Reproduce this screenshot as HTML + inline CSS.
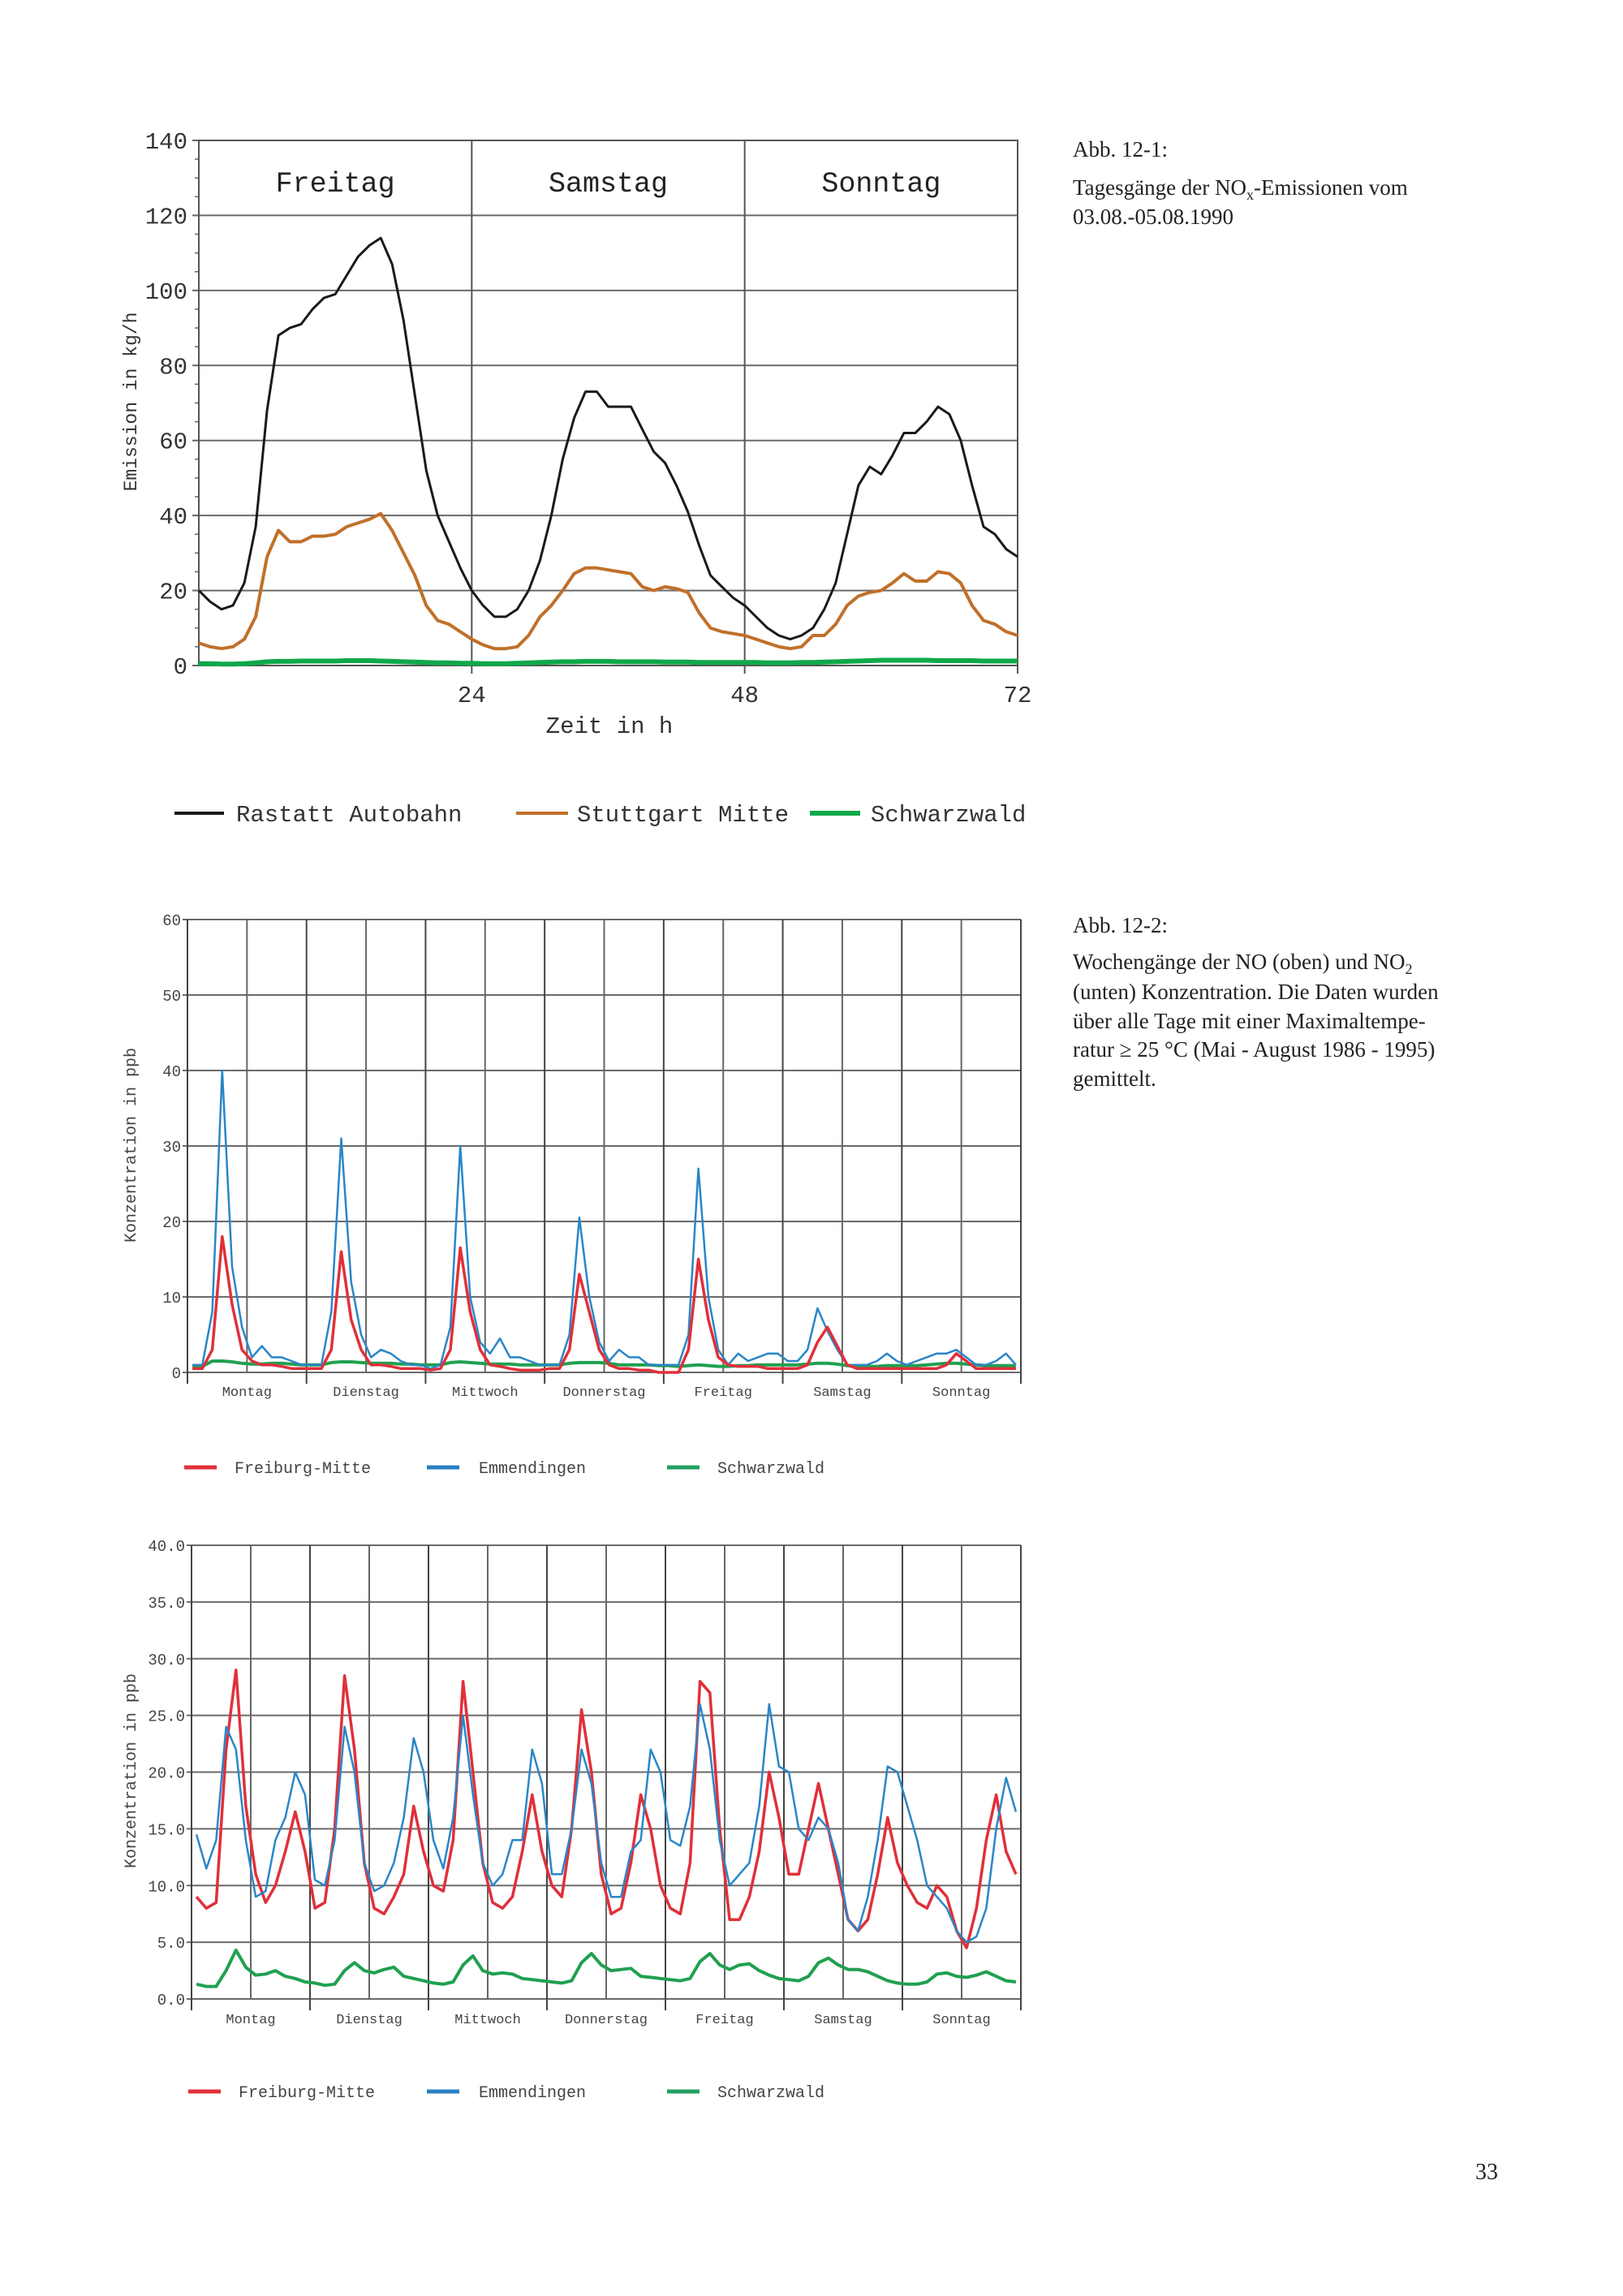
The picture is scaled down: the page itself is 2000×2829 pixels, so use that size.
<!DOCTYPE html>
<html><head><meta charset="utf-8"><style>
html,body{margin:0;padding:0;background:#fff;}
svg{display:block;}
.mono{font-family:"Liberation Mono",monospace;}
.serif{font-family:"Liberation Serif",serif;}
</style></head><body>
<svg id="page" width="2000" height="2829" viewBox="0 0 2000 2829" xmlns="http://www.w3.org/2000/svg">
<rect width="2000" height="2829" fill="#fff"/>
<g class="serif" fill="#222" font-size="27">
<text x="1322" y="193">Abb.  12-1:</text>
<text x="1322" y="240">Tagesgänge der NO<tspan font-size="18" dy="6">x</tspan><tspan dy="-6">-Emissionen vom</tspan></text>
<text x="1322" y="276">03.08.-05.08.1990</text>
</g>
<g class="serif" fill="#222" font-size="27">
<text x="1322" y="1149">Abb. 12-2:</text>
<text x="1322" y="1194">Wochengänge der NO (oben) und NO<tspan font-size="18" dy="6">2</tspan></text>
<text x="1322" y="1231">(unten) Konzentration. Die Daten wurden</text>
<text x="1322" y="1267">über alle Tage mit einer Maximaltempe-</text>
<text x="1322" y="1302">ratur ≥ 25 °C (Mai - August 1986 - 1995)</text>
<text x="1322" y="1338">gemittelt.</text>
</g>
<text class="serif" x="1818" y="2685" font-size="28" fill="#222">33</text>
<g id="c1"></g>
<g id="c2"></g>
<g id="c3"></g>
</svg>
<script>
// ---- Chart 1 data (hourly, 0..72 h) ----
const c1Hours = [0,1,2,3,4,5,6,7,8,9,10,11,12,13,14,15,16,17,18,19,20,21,22,23,24,25,26,27,28,29,30,31,32,33,34,35,36,37,38,39,40,41,42,43,44,45,46,47,48,49,50,51,52,53,54,55,56,57,58,59,60,61,62,63,64,65,66,67,68,69,70,71,72];
const c1Rastatt = [20,17,15,16,22,37,68,88,90,91,95,98,99,104,109,112,114,107,92,72,52,40,33,26,20,16,13,13,15,20,28,40,55,66,73,73,69,69,69,63,57,54,48,41,32,24,21,18,16,13,10,8,7,8,10,15,22,35,48,53,51,56,62,62,65,69,67,60,48,37,35,31,29];
const c1Stuttgart = [6,5,4.5,5,7,13,29,36,33,33,34.5,34.5,35,37,38,39,40.5,36,30,24,16,12,11,9,7,5.5,4.5,4.5,5,8,13,16,20,24.5,26,26,25.5,25,24.5,21,20,21,20.5,19.5,14,10,9,8.5,8,7,6,5,4.5,5,8,8,11,16,18.5,19.5,20,22,24.5,22.5,22.5,25,24.5,22,16,12,11,9,8];
const c1Schwarz = [0.5,0.5,0.4,0.4,0.5,0.7,1,1.1,1.1,1.2,1.2,1.2,1.2,1.3,1.3,1.3,1.2,1.1,1,0.9,0.8,0.7,0.7,0.6,0.6,0.5,0.5,0.5,0.6,0.7,0.8,0.9,1,1,1.1,1.1,1.1,1,1,1,1,0.9,0.9,0.9,0.8,0.8,0.8,0.8,0.8,0.8,0.7,0.7,0.7,0.8,0.8,0.9,1,1.1,1.2,1.3,1.4,1.4,1.4,1.4,1.4,1.3,1.3,1.3,1.3,1.2,1.2,1.2,1.2];
const c1YTicks = [0,20,40,60,80,100,120,140];
const c1XTicks = [24,48,72];
const c1Days = ["Freitag","Samstag","Sonntag"];

// ---- Chart 2 data: NO (points at odd hours, 7 days x 12) ----
const weekDays = ["Montag","Dienstag","Mittwoch","Donnerstag","Freitag","Samstag","Sonntag"];
const c2Freiburg = [0.5,0.5,3,18,9,3,1.5,1,1,0.8,0.5,0.5, 0.5,0.5,3,16,7,3,1,1,0.8,0.5,0.5,0.5, 0.3,0.5,3,16.5,8,3,1,0.8,0.5,0.3,0.3,0.3, 0.5,0.5,3,13,8,3,1,0.5,0.5,0.3,0.3,0, 0,0,3,15,7,2,1,0.8,0.8,0.8,0.5,0.5, 0.5,0.5,1,4,6,3.5,1,0.5,0.5,0.5,0.5,0.5, 0.5,0.5,0.5,0.5,1,2.5,1.5,0.5,0.5,0.5,0.5,0.5];
const c2Emmend = [1,1,8,40,14,6,2,3.5,2,2,1.5,1, 1,1,8,31,12,5,2,3,2.5,1.5,1,1, 0.5,1,6,30,10,4,2.5,4.5,2,2,1.5,1, 1,1,5,20.5,10,4,1.5,3,2,2,1,1, 1,1,5,27,10,3,1,2.5,1.5,2,2.5,2.5, 1.5,1.5,3,8.5,5.5,3,1,1,1,1.5,2.5,1.5, 1,1.5,2,2.5,2.5,3,2,1,1,1.5,2.5,1];
const c2Schwarz = [0.8,0.8,1.5,1.5,1.4,1.2,1.1,1.1,1.2,1.2,1.1,1.0, 1,1,1.3,1.4,1.4,1.3,1.2,1.2,1.2,1.1,1.1,1, 1,1,1.3,1.4,1.3,1.2,1.1,1.1,1.1,1,1,1, 1,1,1.2,1.3,1.3,1.3,1.2,1,1,1,1,0.9, 0.9,0.8,0.9,1,0.9,0.8,0.8,0.9,0.9,1,1,1, 1,1,1.1,1.2,1.2,1.1,0.9,0.8,0.8,0.8,0.9,0.9, 0.9,0.9,1,1.1,1.2,1.2,1.1,1,0.9,0.9,0.9,0.9];
const c2YTicks = [0,10,20,30,40,50,60];

// ---- Chart 3 data: NO2 ----
const c3Freiburg = [9,8,8.5,22,29,17,11,8.5,10,13,16.5,13, 8,8.5,15,28.5,22,12,8,7.5,9,11,17,13, 10,9.5,14,28,20,12,8.5,8,9,13,18,13, 10,9,15,25.5,20,11,7.5,8,12,18,15,10, 8,7.5,12,28,27,15,7,7,9,13,20,16, 11,11,15,19,15,11,7,6,7,11,16,12, 10,8.5,8,10,9,6,4.5,8,14,18,13,11];
const c3Emmend = [14.5,11.5,14,24,22,14,9,9.5,14,16,20,18, 10.5,10,14,24,20,12,9.5,10,12,16,23,20, 14,11.5,16,25,18,12,10,11,14,14,22,19, 11,11,15,22,19,12,9,9,13,14,22,20, 14,13.5,17,26,22,14,10,11,12,17,26,20.5, 20,15,14,16,15,12,7,6,9,14,20.5,20, 17,14,10,9,8,6,5,5.5,8,15,19.5,16.5];
const c3Schwarz = [1.3,1.1,1.1,2.5,4.3,2.8,2.1,2.2,2.5,2,1.8,1.5, 1.4,1.2,1.3,2.5,3.2,2.5,2.3,2.6,2.8,2,1.8,1.6, 1.4,1.3,1.5,3,3.8,2.5,2.2,2.3,2.2,1.8,1.7,1.6, 1.5,1.4,1.6,3.2,4,3,2.5,2.6,2.7,2.0,1.9,1.8, 1.7,1.6,1.8,3.3,4,3,2.6,3.0,3.1,2.5,2.1,1.8, 1.7,1.6,2,3.2,3.6,3,2.6,2.6,2.4,2,1.6,1.4, 1.3,1.3,1.5,2.2,2.3,2,1.9,2.1,2.4,2,1.6,1.5];
const c3YTicks = [0,5,10,15,20,25,30,35,40];

const NS = "http://www.w3.org/2000/svg";
function mk(parent, tag, attrs, text){
  const e = document.createElementNS(NS, tag);
  for (const k in attrs) e.setAttribute(k, attrs[k]);
  if (text !== undefined) e.textContent = text;
  parent.appendChild(e);
  return e;
}
function linePath(xs, ys, xf, yf){
  return xs.map((x,i)=>(i?'L':'M')+xf(x).toFixed(1)+','+yf(ys[i]).toFixed(1)).join(' ');
}

// ===== Chart 1 =====
(function(){
  const g = document.getElementById('c1');
  const L=245,R=1254,T=173,B=820;
  const x = h => L + (R-L)*h/72;
  const y = v => B - (B-T)*v/140;
  c1YTicks.forEach(v=>{
    const ln = mk(g,'line',{x1:L-8,x2:R,y1:y(v),y2:y(v),stroke:'#6a6a6a','stroke-width':2});
    
    
    const t = mk(g,'text',{x:L-14,y:y(v)+10,'text-anchor':'end','font-size':29,fill:'#333',class:'mono'}, String(v));
    
    
  });
  for(let v=0; v<=140; v+=5){ mk(g,'line',{x1:L-5,x2:L,y1:y(v),y2:y(v),stroke:'#666','stroke-width':1.5}); }
  c1XTicks.forEach(h=>{
    const ln = mk(g,'line',{x1:x(h),x2:x(h),y1:T,y2:B+10,stroke:'#555','stroke-width':2});
    
    
    const t = mk(g,'text',{x:x(h),y:B+45,'text-anchor':'middle','font-size':29,fill:'#333',class:'mono'}, String(h));
    
    
  });
  const fr = mk(g,'rect',{x:L,y:T,width:R-L,height:B-T,fill:'none',stroke:'#555','stroke-width':2});
  
  
  c1Days.forEach((d,i)=>{
    const t = mk(g,'text',{x:x(i*24+12),y:236,'text-anchor':'middle','font-size':35,fill:'#222',class:'mono'}, d);
    
    
  });
  const series=[[c1Schwarz,'#10a84a',6,'series-schwarzwald'],[c1Stuttgart,'#c0702a',4,'series-stuttgart-mitte'],[c1Rastatt,'#1a1a1a',3,'series-rastatt-autobahn']];
  series.forEach(s=>{
    const p = mk(g,'path',{d:linePath(c1Hours,s[0],x,y),fill:'none',stroke:s[1],'stroke-width':s[2],'stroke-linejoin':'round'});
    
    
  });
  const xt = mk(g,'text',{x:751,y:903,'text-anchor':'middle','font-size':29,fill:'#333',class:'mono'},'Zeit in h');
  
  
  const yt = mk(g,'text',{x:0,y:0,transform:'translate(168,495) rotate(-90)','text-anchor':'middle','font-size':23,fill:'#333',class:'mono'},'Emission in kg/h');
  
  
  const leg=[[215,276,'#1a1a1a',4,291,'Rastatt  Autobahn'],[636,700,'#c0702a',4,711,'Stuttgart Mitte'],[998,1060,'#10a84a',6,1073,'Schwarzwald']];
  leg.forEach(l=>{
    const lg = mk(g,'g',{});
    
    
    mk(lg,'line',{x1:l[0],x2:l[1],y1:1002,y2:1002,stroke:l[2],'stroke-width':l[3]});
    mk(lg,'text',{x:l[4],y:1012,'font-size':29,fill:'#333',class:'mono'},l[5]);
  });
})();

// ===== weekly charts =====
function weekly(id, L,R,T,B, ymax, yticks, fmt, series, labelY, legendY, titleCY){
  const g = document.getElementById(id);
  const x = h => L + (R-L)*h/168;
  const y = v => B - (B-T)*v/ymax;
  yticks.forEach(v=>{
    const ln = mk(g,'line',{x1:L-6,x2:R,y1:y(v),y2:y(v),stroke:'#6a6a6a','stroke-width':2});
    
    
    const t = mk(g,'text',{x:L-8,y:y(v)+7,'text-anchor':'end','font-size':19,fill:'#444',class:'mono'}, fmt(v));
    
    
  });
  for(let k=0;k<=14;k++){
    const ln = mk(g,'line',{x1:x(k*12),x2:x(k*12),y1:T,y2:B+(k%2?0:14),stroke:k%2?'#666':'#444','stroke-width':2});
    
    
  }
  weekDays.forEach((d,i)=>{
    const t = mk(g,'text',{x:x(i*24+12),y:labelY,'text-anchor':'middle','font-size':17,fill:'#444',class:'mono'}, d);
    
    
  });
  const hrs = series[0][0].map((_,i)=>2*i+1);
  series.forEach(s=>{
    const p = mk(g,'path',{d:linePath(hrs,s[0],x,y),fill:'none',stroke:s[1],'stroke-width':s[2],'stroke-linejoin':'round'});
    
    
  });
  const yt = mk(g,'text',{x:0,y:0,transform:`translate(167,${titleCY}) rotate(-90)`,'text-anchor':'middle','font-size':20,fill:'#444',class:'mono'},'Konzentration in ppb');
  
  
  const leg=[[L-4,L+36,'#e0303a',L+58,'Freiburg-Mitte'],[526,566,'#2a7fc0',590,'Emmendingen'],[822,862,'#20a060',884,'Schwarzwald']];
  leg.forEach(l=>{
    const lg = mk(g,'g',{});
    
    
    mk(lg,'line',{x1:l[0],x2:l[1],y1:legendY,y2:legendY,stroke:l[2],'stroke-width':5});
    mk(lg,'text',{x:l[3],y:legendY+7,'font-size':20,fill:'#444',class:'mono'},l[4]);
  });
}
weekly('c2',231,1258,1133,1691,60,c2YTicks,v=>String(v),
  [[c2Schwarz,'#20a050',4,'series-schwarzwald'],[c2Emmend,'#2a86c8',2.5,'series-emmendingen'],[c2Freiburg,'#e0303a',3.5,'series-freiburg-mitte']],
  1720,1808,1411);
weekly('c3',236,1258,1904,2463,40,c3YTicks,v=>v.toFixed(1),
  [[c3Schwarz,'#20a050',4,'series-schwarzwald'],[c3Freiburg,'#e0303a',3.5,'series-freiburg-mitte'],[c3Emmend,'#2a86c8',2.5,'series-emmendingen']],
  2493,2577,2182);
</script>
</body></html>
